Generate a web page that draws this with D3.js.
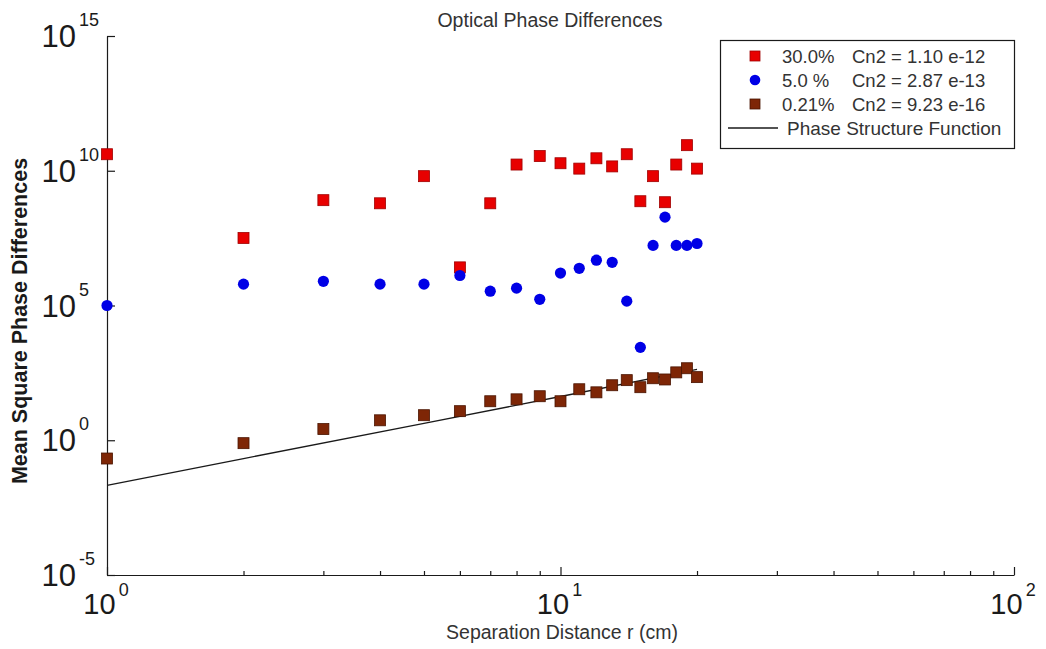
<!DOCTYPE html>
<html>
<head>
<meta charset="utf-8">
<script src="https://cdn.jsdelivr.net/npm/d3@7"></script>
<style>
  html, body { margin: 0; padding: 0; background: #fff; }
  svg { display: block; font-family: "Liberation Sans", Arial, Helvetica, sans-serif; }
</style>
</head>
<body>
<svg id="chart" width="1046" height="649"></svg>
<script>
// Separation distances r (cm)
const separations = [1, 2, 3, 4, 5, 6, 7, 8, 9, 10, 11, 12, 13, 14, 15, 16, 17, 18, 19, 20];

// Mean square phase differences for each turbulence level
const high30 = [4.1e10, 3.2e7, 8.1e8, 6.2e8, 6.3e9, 2.6e6, 6.2e8, 1.7e10, 3.5e10, 1.9e10,
                1.2e10, 2.9e10, 1.45e10, 4.1e10, 7.4e8, 6.3e9, 6.8e8, 1.7e10, 8.9e10, 1.2e10];
const mid5 = [1.0e5, 6.2e5, 7.9e5, 6.2e5, 6.2e5, 1.3e6, 3.4e5, 4.4e5, 1.7e5, 1.6e6,
              2.4e6, 4.8e6, 4.0e6, 1.45e5, 2.8e3, 1.7e7, 1.9e8, 1.7e7, 1.7e7, 2.0e7];
const low021 = [0.21, 0.78, 2.6, 5.5, 8.5, 12, 28, 33, 43, 28,
                78, 60, 110, 170, 93, 200, 180, 330, 470, 220];

// Phase structure function curve
const psfR = [1, 2, 5, 10, 20];
const psfD = [0.021, 0.21, 4.2, 42, 430];

// Axis ticks
const xMajor = [1, 10, 100];
const xMajorExp = ["0", "1", "2"];
const xMinor = [2, 3, 4, 5, 6, 7, 8, 9, 20, 30, 40, 50, 60, 70, 80, 90];
const yMajor = [1e-5, 1, 1e5, 1e10, 1e15];
const yMajorExp = ["-5", "0", "5", "10", "15"];

// Legend entries
const legendPct = ["30.0%", "5.0 %", "0.21%"];
const legendCn2 = ["Cn2 = 1.10 e-12", "Cn2 = 2.87 e-13", "Cn2 = 9.23 e-16"];

const svg = d3.select("#chart");
const x = d3.scaleLog().domain([1, 100]).range([107, 1014]);
const y = d3.scaleLog().domain([1e-5, 1e15]).range([575, 36]);

const ink = "#1a1a1a";

// Title
svg.append("text").attr("x", 550).attr("y", 27).attr("text-anchor", "middle")
  .attr("font-size", 19.5).attr("fill", "#333").text("Optical Phase Differences");

// X axis (ticks point inward)
const gx = svg.append("g").attr("transform", `translate(0,${y.range()[0]})`);
gx.call(d3.axisBottom(x).tickValues(xMajor).tickSizeInner(-8).tickSizeOuter(0).tickFormat(""));
gx.append("g").call(d3.axisBottom(x).tickValues(xMinor).tickSizeInner(-4).tickSizeOuter(0).tickFormat(""))
  .select(".domain").remove();
gx.selectAll("path, line").attr("stroke", ink).attr("stroke-width", 1.2);

// Y axis
const gy = svg.append("g").attr("transform", `translate(${x.range()[0]},0)`);
gy.call(d3.axisLeft(y).tickValues(yMajor).tickSizeInner(-8).tickSizeOuter(0).tickFormat(""));
gy.selectAll("path, line").attr("stroke", ink).attr("stroke-width", 1.2);

// X tick labels: 10 with superscript exponent
xMajor.forEach((v, i) => {
  const t = svg.append("text").attr("x", x(v) - 1).attr("y", 614)
    .attr("text-anchor", "middle").attr("fill", ink);
  t.append("tspan").attr("font-size", 29).text("10");
  t.append("tspan").attr("font-size", 18).attr("dx", 3).attr("dy", -18).text(xMajorExp[i]);
});

// Y tick labels
yMajor.forEach((v, i) => {
  const ty = y(v);
  svg.append("text").attr("x", 76).attr("y", ty + 11).attr("text-anchor", "end")
    .attr("font-size", 31).attr("fill", ink).text("10");
  svg.append("text").attr("x", 79).attr("y", ty - 10).attr("text-anchor", "start")
    .attr("font-size", 18).attr("fill", ink).text(yMajorExp[i]);
});

// Axis labels
svg.append("text").attr("x", 562).attr("y", 639).attr("text-anchor", "middle")
  .attr("font-size", 19.5).attr("fill", "#333").text("Separation Distance r (cm)");
svg.append("text").attr("transform", "translate(27,321) rotate(-90)")
  .attr("text-anchor", "middle").attr("font-size", 21.5).attr("font-weight", "bold")
  .attr("fill", ink).text("Mean Square Phase Differences");

// Phase structure function
const psf = psfR.map((r, i) => [r, psfD[i]]);
svg.append("path").datum(psf)
  .attr("d", d3.line().x(d => x(d[0])).y(d => y(d[1])))
  .attr("fill", "none").attr("stroke", ink).attr("stroke-width", 1.3);

const sq = 11;
const redFill = "#e80000", redEdge = "#a00000";
const blueFill = "#0000e6";
const brownFill = "#7e2606", brownEdge = "#4a1400";

function squares(values, fill, edge) {
  svg.append("g").selectAll("rect").data(values).join("rect")
    .attr("x", (d, i) => x(separations[i]) - sq / 2)
    .attr("y", d => y(d) - sq / 2)
    .attr("width", sq).attr("height", sq)
    .attr("fill", fill).attr("stroke", edge).attr("stroke-width", 0.8);
}
function circles(values, fill) {
  svg.append("g").selectAll("circle").data(values).join("circle")
    .attr("cx", (d, i) => x(separations[i]))
    .attr("cy", d => y(d)).attr("r", 5.6)
    .attr("fill", fill);
}

squares(high30, redFill, redEdge);
circles(mid5, blueFill);
squares(low021, brownFill, brownEdge);

// Legend
const lg = svg.append("g");
lg.append("rect").attr("x", 720.5).attr("y", 40.5).attr("width", 294).attr("height", 108)
  .attr("fill", "#fff").attr("stroke", ink).attr("stroke-width", 1.2);
const rowY = [56, 80, 104, 128];
const markX = 755;
lg.append("rect").attr("x", markX - 5).attr("y", rowY[0] - 5).attr("width", 10).attr("height", 10)
  .attr("fill", redFill).attr("stroke", redEdge).attr("stroke-width", 0.8);
lg.append("circle").attr("cx", markX).attr("cy", rowY[1]).attr("r", 5.3).attr("fill", blueFill);
lg.append("rect").attr("x", markX - 5).attr("y", rowY[2] - 5).attr("width", 10).attr("height", 10)
  .attr("fill", brownFill).attr("stroke", brownEdge).attr("stroke-width", 0.8);
lg.append("line").attr("x1", 728).attr("x2", 778).attr("y1", rowY[3]).attr("y2", rowY[3])
  .attr("stroke", ink).attr("stroke-width", 1.3);
legendPct.forEach((p, i) => {
  lg.append("text").attr("x", 782).attr("y", rowY[i] + 6.5).attr("font-size", 18.5)
    .attr("fill", "#333").text(p);
  lg.append("text").attr("x", 852).attr("y", rowY[i] + 6.5).attr("font-size", 18.5)
    .attr("fill", "#333").text(legendCn2[i]);
});
lg.append("text").attr("x", 787).attr("y", rowY[3] + 6.5).attr("font-size", 19)
  .attr("fill", "#333").text("Phase Structure Function");
</script>
</body>
</html>
